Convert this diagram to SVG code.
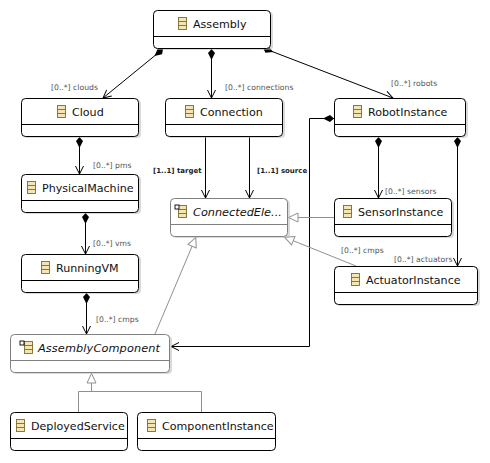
<svg xmlns="http://www.w3.org/2000/svg" width="490" height="463" viewBox="0 0 490 463">
<style>
text{font-family:"DejaVu Sans","Liberation Sans",sans-serif}
.n{font-size:11.100px;fill:#111;text-anchor:start}
.i{font-style:italic;font-size:11.300px}
.l{font-size:7.700px;fill:#555}
.b{font-size:7px;fill:#222;font-weight:bold}
.box{fill:#fff;stroke:#000;stroke-width:1}
.abs{fill:#fff;stroke:#808080;stroke-width:1}
.sh{fill:#bbb;opacity:.55}
.dv{stroke:#000;stroke-width:1}
.dva{stroke:#808080;stroke-width:1}
.c{fill:none;stroke:#000;stroke-width:1}
.g{fill:none;stroke:#909090;stroke-width:1}
.ic{fill:#f3e6b4;stroke:#7d6a2c;stroke-width:.9}
.ab{fill:#fff;stroke:#000;stroke-width:.9}
</style>
<defs>
<g id="cls"><rect class="ic" x="0.500" y="0.500" width="8" height="12"/><path class="ic" d="M0.500 4.500H8.500M0.500 8.500H8.500"/></g>
<marker id="d" viewBox="0 0 14 8" refX="0" refY="4" markerWidth="14" markerHeight="8" markerUnits="userSpaceOnUse" orient="auto"><path d="M0 4L4 .5L11 4L4 7.500Z" fill="#000"/></marker>
<marker id="a" viewBox="0 0 10 10" refX="9" refY="5" markerWidth="10" markerHeight="10" markerUnits="userSpaceOnUse" orient="auto"><path d="M1 1L9 5L1 9" fill="none" stroke="#000"/></marker>
<marker id="t" viewBox="0 0 12 12" refX="11" refY="6" markerWidth="12" markerHeight="12" markerUnits="userSpaceOnUse" orient="auto"><path d="M1 1.500L10.500 6L1 10.500Z" fill="#fff" stroke="#909090"/></marker>
</defs>
<g id="connectors">
<path class="c" d="M163 49L103 98" marker-start="url(#d)" marker-end="url(#a)"/>
<path class="c" d="M211.500 49V98" marker-start="url(#d)" marker-end="url(#a)"/>
<path class="c" d="M263 48L393 98" marker-start="url(#d)" marker-end="url(#a)"/>
<path class="c" d="M79.500 137V174" marker-start="url(#d)" marker-end="url(#a)"/>
<path class="c" d="M85.500 213V254" marker-start="url(#d)" marker-end="url(#a)"/>
<path class="c" d="M86.500 293V334" marker-start="url(#d)" marker-end="url(#a)"/>
<path class="c" d="M205.500 136V198" marker-end="url(#a)"/>
<path class="c" d="M249.500 136V198" marker-end="url(#a)"/>
<path class="c" d="M334 118.500H309.500V346.500H171" marker-start="url(#d)" marker-end="url(#a)"/>
<path class="c" d="M378.500 137V198" marker-start="url(#d)" marker-end="url(#a)"/>
<path class="c" d="M457.500 137V266" marker-start="url(#d)" marker-end="url(#a)"/>
<path class="g" d="M334 217.500H288" marker-end="url(#t)"/>
<path class="g" d="M356 266L284 237" marker-end="url(#t)"/>
<path class="g" d="M155 334L196 237" marker-end="url(#t)"/>
<path class="g" d="M78.500 412V391.500H201.500V412M91.500 391.500V373" marker-end="url(#t)"/>
<text class="l" x="51" y="90">[0..*] clouds</text>
<text class="l" x="225" y="90">[0..*] connections</text>
<text class="l" x="391" y="86">[0..*] robots</text>
<text class="l" x="93" y="168">[0..*] pms</text>
<text class="l" x="93" y="246">[0..*] vms</text>
<text class="l" x="96" y="322">[0..*] cmps</text>
<text class="b" x="153" y="173">[1..1] target</text>
<text class="b" x="257" y="173">[1..1] source</text>
<text class="l" x="385" y="194">[0..*] sensors</text>
<text class="l" x="341" y="253">[0..*] cmps</text>
<text class="l" x="394" y="262">[0..*] actuators</text>
</g>
<g id="Assembly"><rect class="sh" x="155" y="12" width="118" height="38" rx="4"/><rect class="box" x="153.500" y="10.500" width="117" height="38" rx="4"/><path class="dv" d="M153.500 36.500H270.500"/><use href="#cls" x="178" y="17"/><text class="n" x="193" y="28">Assembly</text></g>
<g id="Cloud"><rect class="sh" x="23" y="100" width="118" height="38" rx="4"/><rect class="box" x="21.500" y="98.500" width="117" height="38" rx="4"/><path class="dv" d="M21.500 124.500H138.500"/><use href="#cls" x="57" y="105"/><text class="n" x="72" y="116">Cloud</text></g>
<g id="Connection"><rect class="sh" x="167" y="100" width="118" height="38" rx="4"/><rect class="box" x="165.500" y="98.500" width="117" height="38" rx="4"/><path class="dv" d="M165.500 124.500H282.500"/><use href="#cls" x="185" y="105"/><text class="n" x="200" y="116">Connection</text></g>
<g id="RobotInstance"><rect class="sh" x="336" y="100" width="132" height="38" rx="4"/><rect class="box" x="334.500" y="98.500" width="131" height="38" rx="4"/><path class="dv" d="M334.500 124.500H465.500"/><use href="#cls" x="353" y="105"/><text class="n" x="368" y="116">RobotInstance</text></g>
<g id="PhysicalMachine"><rect class="sh" x="23" y="176" width="118" height="38" rx="4"/><rect class="box" x="21.500" y="174.500" width="117" height="38" rx="4"/><path class="dv" d="M21.500 200.500H138.500"/><use href="#cls" x="27" y="181"/><text class="n" x="42" y="192">PhysicalMachine</text></g>
<g id="RunningVM"><rect class="sh" x="23" y="256" width="118" height="38" rx="4"/><rect class="box" x="21.500" y="254.500" width="117" height="38" rx="4"/><path class="dv" d="M21.500 280.500H138.500"/><use href="#cls" x="41" y="261"/><text class="n" x="56" y="272">RunningVM</text></g>
<g id="ConnectedElement"><rect class="sh" x="172" y="200" width="118" height="38" rx="4"/><rect class="abs" x="170.500" y="198.500" width="117" height="38" rx="4"/><path class="dva" d="M170.500 224.500H287.500"/><use href="#cls" x="178" y="205"/><rect class="ab" x="175" y="205" width="4" height="4"/><text class="n i" x="193" y="216">ConnectedEle...</text></g>
<g id="SensorInstance"><rect class="sh" x="336" y="200" width="118" height="38" rx="4"/><rect class="box" x="334.500" y="198.500" width="117" height="38" rx="4"/><path class="dv" d="M334.500 224.500H451.500"/><use href="#cls" x="343" y="205"/><text class="n" x="358" y="216">SensorInstance</text></g>
<g id="ActuatorInstance"><rect class="sh" x="336" y="268" width="144" height="38" rx="4"/><rect class="box" x="334.500" y="266.500" width="143" height="38" rx="4"/><path class="dv" d="M334.500 292.500H477.500"/><use href="#cls" x="351" y="273"/><text class="n" x="366" y="284">ActuatorInstance</text></g>
<g id="AssemblyComponent"><rect class="sh" x="12" y="336" width="160" height="38" rx="4"/><rect class="abs" x="10.500" y="334.500" width="159" height="38" rx="4"/><path class="dva" d="M10.500 360.500H169.500"/><use href="#cls" x="24" y="341"/><rect class="ab" x="20" y="341" width="4" height="4"/><text class="n i" x="38" y="352" textLength="122">AssemblyComponent</text></g>
<g id="DeployedService"><rect class="box" x="10.500" y="412.500" width="117" height="38" rx="4"/><path class="dv" d="M10.500 438.500H127.500"/><use href="#cls" x="16" y="419"/><text class="n" x="31" y="430">DeployedService</text></g>
<g id="ComponentInstance"><rect class="box" x="137.500" y="412.500" width="138" height="38" rx="4"/><path class="dv" d="M137.500 438.500H275.500"/><use href="#cls" x="147" y="419"/><text class="n" x="162" y="430">ComponentInstance</text></g>
</svg>
